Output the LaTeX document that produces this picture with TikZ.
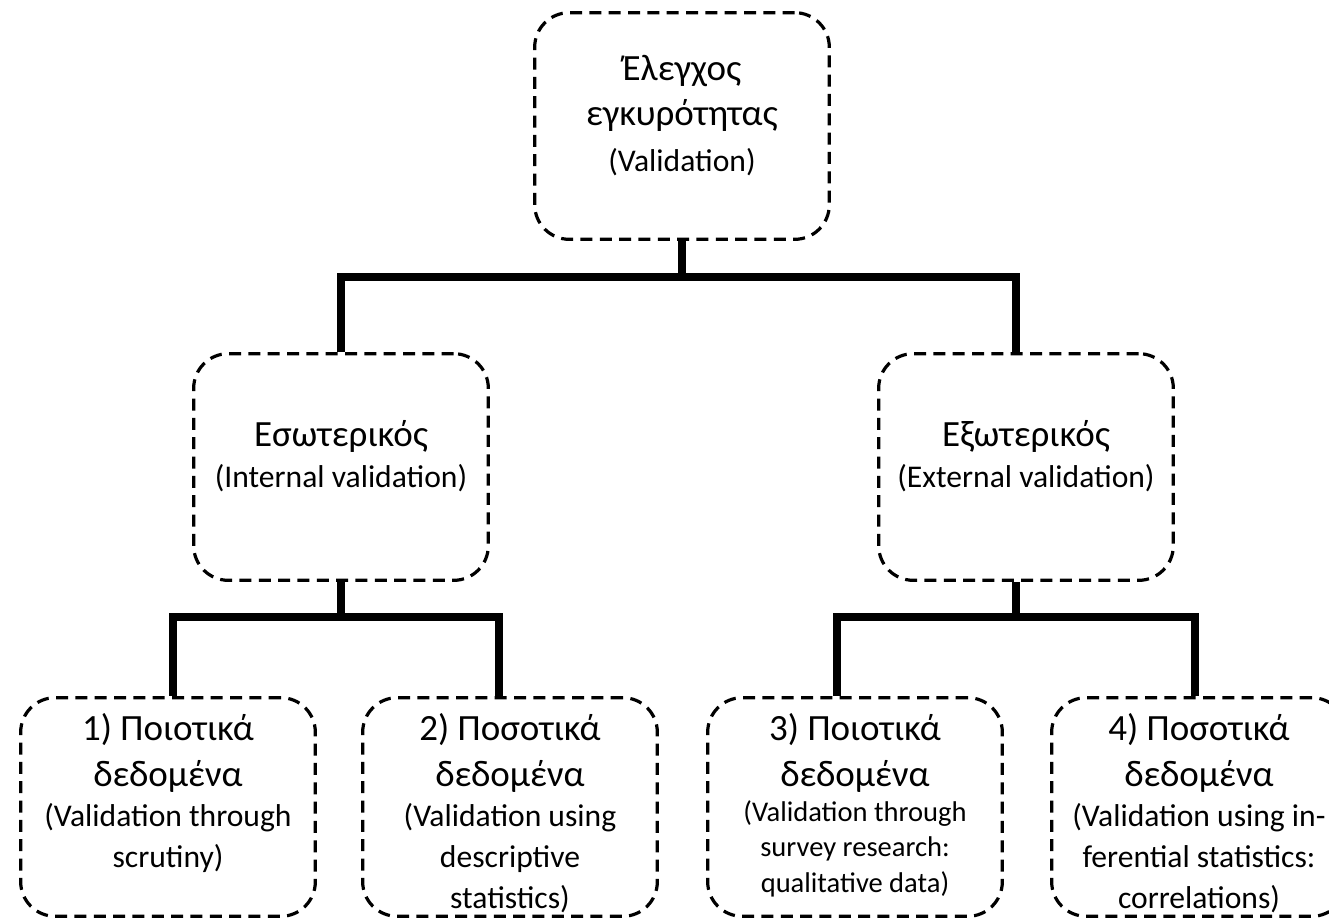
\documentclass[tikz,border=0pt]{standalone}
\usepackage{fontspec}
\setmainfont{Carlito}
\newcommand{\gr}{\fontsize{27.75}{34}\selectfont}
\newcommand{\en}{\par\fontsize{23.7}{30.5}\selectfont}
\newcommand{\ensm}{\par\fontsize{21.4}{26.5}\selectfont}
\newcommand{\fin}{\par}
\newcommand{\upperend}{\par\vspace*{16pt}\end{minipage}}

\begin{document}
\begin{tikzpicture}[x=0.75pt, y=-0.75pt,
    box/.style={draw, rounded corners=26pt, line width=2.4pt, dash pattern=on 9pt off 5.5pt, minimum width=221pt, inner xsep=3pt},
    upper/.style={box, inner ysep=0pt, execute at begin node={\begin{minipage}[c][170pt][c]{215pt}\centering}, execute at end node={\upperend}},
    leaf/.style={box, inner ysep=12pt, execute at begin node={\begin{minipage}[c][140pt][t]{215pt}\centering}, execute at end node={\end{minipage}}},
    conn/.style={line width=6pt}]
        \useasboundingbox (0,0) rectangle (1329,923);
        \clip (0,0) rectangle (1329,923);

        \node[upper] (V) at (682,126) {\gr Έλεγχος\\ εγκυρότητας\en\vspace{4pt}(Validation)\fin};

        \node[upper] (I) at (341,467) {\gr Εσωτερικός\en (Internal validation)\fin};
        \node[upper] (E) at (1026,467) {\gr Εξωτερικός\en (External validation)\fin};

        \node[leaf] (Q1) at (168,807) {\gr 1) Ποιοτικά\\ δεδομένα\en (Validation through\\ scrutiny)\fin};
        \node[leaf] (Q2) at (510,807) {\gr 2) Ποσοτικά\\ δεδομένα\en (Validation using\\ descriptive\\ statistics)\fin};
        \node[leaf] (Q3) at (855,807) {\gr 3) Ποιοτικά\\ δεδομένα\ensm (Validation through\\ survey research:\\ qualitative data)\fin};
        \node[leaf] (Q4) at (1199,807) {\gr 4) Ποσοτικά\\ δεδομένα\en (Validation using in-\\ ferential statistics:\\ correlations)\fin};

        \draw[conn] (V.south) -- ++(0,36) -| (I.north);
        \draw[conn] (V.south) ++(0,36) -| ([xshift=-7.5pt]E.north);

        \draw[conn] (I.south) -- ++(0,35) -| ([xshift=3.75pt]Q1.north);
        \draw[conn] (I.south) ++(0,35) -| ([xshift=-8.25pt]Q2.north);
        \draw[conn] ([xshift=-7.5pt]E.south) -- ++(0,35) -| ([xshift=-13.5pt]Q3.north);
        \draw[conn] ([xshift=-7.5pt]E.south) ++(0,35) -| ([xshift=-3pt]Q4.north);
      \end{tikzpicture}
\end{document}
